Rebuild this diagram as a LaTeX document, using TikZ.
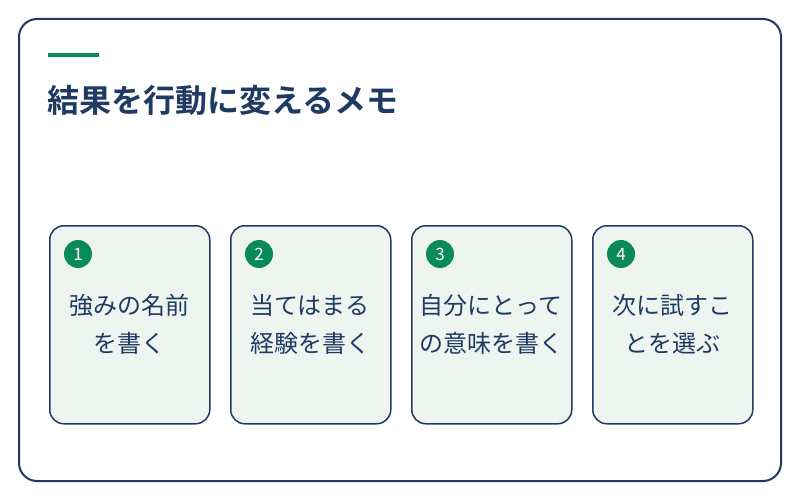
\documentclass[tikz,border=0pt]{standalone}
\usepackage{fontspec}
\newfontfamily\cjk{Noto Sans CJK JP}
\newfontfamily\cjkbold{Noto Sans CJK JP Bold}
\usepackage{xcolor}
\definecolor{mnavy}{HTML}{1f3a63}
\definecolor{mgreen}{HTML}{0a8a5a}
\definecolor{mcard}{HTML}{eef5f0}
\tikzset{
  card/.style={draw=mnavy, line width=1.5pt, fill=mcard, rounded corners=14pt,
    minimum width=160pt, minimum height=198pt, anchor=north west},
  badge/.style={circle, fill=mgreen, minimum size=28pt, inner sep=0pt,
    text=white, font=\cjk\fontsize{17}{17}\selectfont},
  cardtext/.style={align=center, text=mnavy, font=\cjk\fontsize{24}{38}\selectfont}
}
\begin{document}
\begin{tikzpicture}[x=1pt, y=-1pt]
		\useasboundingbox (0,0) rectangle (800,500);
		\draw[mnavy, line width=2pt, rounded corners=18pt] (19,19) rectangle (781,481);
		\draw[mgreen, line width=4pt] (48,55) -- (99,55);
		\node[anchor=base west, inner sep=0pt, text=mnavy, font=\cjkbold\fontsize{32}{32}\selectfont] (title) at (47,113) {結果を行動に変えるメモ};
		% cards
		\foreach \i/\x/\txt in {1/49/{強みの名前\\を書く}, 2/230/{当てはまる\\経験を書く}, 3/411/{自分にとって\\の意味を書く}, 4/592/{次に試すこ\\とを選ぶ}} {
			\node[card] (card\i) at (\x,225) {};
			\node[badge] (badge\i) at (\x+29,254) {\i};
			\node[cardtext, anchor=north] (text\i) at (\x+80,291) {\txt};
		}
	\end{tikzpicture}
\end{document}
